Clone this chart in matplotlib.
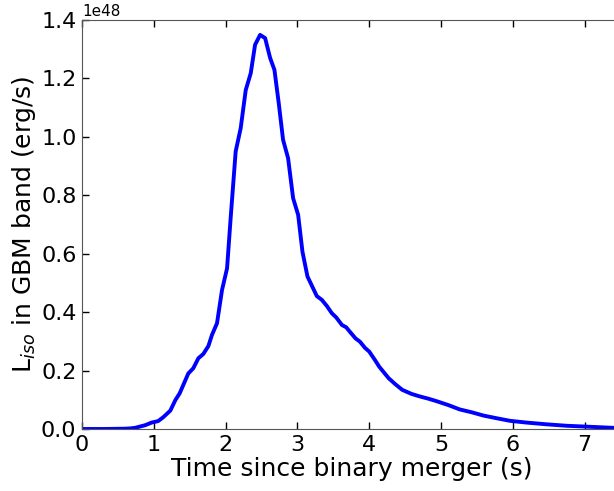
import matplotlib
matplotlib.use("Agg")
import matplotlib.pyplot as plt

# time since merger (s) and isotropic luminosity in GBM band (1e48 erg/s)
time_s = [0.0, 0.3, 0.6, 0.67, 0.74, 0.88, 0.97, 1.06, 1.13, 1.23, 1.30, 1.36,
          1.48, 1.55, 1.62, 1.69, 1.76, 1.81, 1.88, 1.95, 2.02, 2.07, 2.14,
          2.21, 2.28, 2.35, 2.41, 2.48, 2.55, 2.62, 2.68, 2.74, 2.80, 2.87,
          2.94, 3.01, 3.07, 3.14, 3.27, 3.34, 3.41, 3.48, 3.54, 3.62, 3.68,
          3.74, 3.81, 3.87, 3.94, 4.00, 4.08, 4.14, 4.27, 4.36, 4.46, 4.59,
          4.71, 4.82, 4.94, 5.10, 5.26, 5.43, 5.59, 5.77, 5.96, 6.19, 6.47,
          6.75, 7.03, 7.39, 7.6]
lum_1e48 = [0.0, 0.0, 0.001, 0.002, 0.004, 0.013, 0.022, 0.027, 0.040, 0.063,
            0.099, 0.122, 0.190, 0.208, 0.242, 0.257, 0.284, 0.322, 0.362,
            0.476, 0.550, 0.722, 0.950, 1.030, 1.160, 1.218, 1.315, 1.349,
            1.338, 1.270, 1.229, 1.115, 0.990, 0.927, 0.790, 0.733, 0.607,
            0.522, 0.455, 0.442, 0.421, 0.396, 0.382, 0.356, 0.348, 0.330,
            0.310, 0.299, 0.278, 0.265, 0.236, 0.213, 0.174, 0.154, 0.134,
            0.120, 0.111, 0.104, 0.095, 0.082, 0.067, 0.057, 0.046, 0.037,
            0.028, 0.022, 0.016, 0.011, 0.008, 0.004, 0.003]

lum = [v * 1e48 for v in lum_1e48]

fig = plt.figure(figsize=(6.14, 4.91), dpi=100)
ax = fig.add_axes([0.1336, 0.1263, 0.877, 0.833])

ax.plot(time_s, lum, color='#0000ff', linewidth=2.8)

ax.set_xlim(0, 7.5)
ax.set_ylim(0, 1.4e48)
ax.set_xticks([0, 1, 2, 3, 4, 5, 6, 7])
ax.set_yticks([0, 0.2e48, 0.4e48, 0.6e48, 0.8e48, 1.0e48, 1.2e48, 1.4e48])

ax.tick_params(direction='in', length=5, width=1, top=True, right=True,
               labelsize=16, pad=4)
ax.yaxis.get_offset_text().set_fontsize(11)
for sp in ax.spines.values():
    sp.set_color('#555555')

ax.set_xlabel("Time since binary merger (s)", fontsize=18, labelpad=2)
ax.set_ylabel("L$_{iso}$ in GBM band (erg/s)", fontsize=18, labelpad=2)

fig.savefig("out.png", dpi=100)
